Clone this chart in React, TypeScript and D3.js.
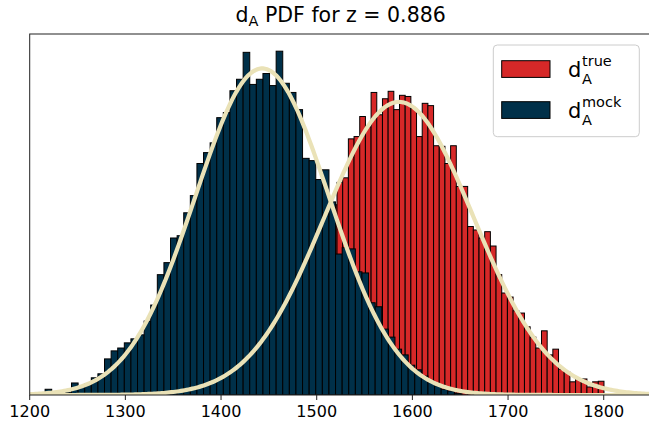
import * as d3 from "d3";

// d_A histograms (density, x1e-4 per unit of d_A), read bar by bar
const MOCK_START = 1216.1;
const MOCK_WIDTH = 6.9;
const mockDensity = [
  1.0, 0.2, 0.3, 0.5, 2.1, 1.4, 1.9, 3.0, 3.7, 6.3,
  7.7, 8.2, 9.1, 9.8, 10.5, 12.9, 15.7, 21.0, 23.1, 27.4,
  27.8, 31.8, 34.8, 40.4, 42.3, 44.0, 48.4, 49.3, 53.1, 55.1,
  59.8, 54.2, 55.1, 56.1, 54.0, 60.0, 54.4, 52.8, 49.8, 41.3,
  40.9, 37.6, 39.3, 33.7, 24.6, 25.7, 25.5, 21.5, 21.3, 16.1,
  15.4, 11.5, 10.1, 8.0, 7.0, 5.2, 4.4, 3.3, 2.3, 1.6,
  1.0, 0.7, 0.3,
];

const TRUE_START = 1372.8;
const TRUE_WIDTH = 5.937;
const trueDensity = [
  1.0, 0.9, 1.7, 2.1, 2.6, 3.5, 3.8, 5.2, 5.8, 7.0,
  7.7, 9.1, 10.5, 11.5, 13.6, 15.0, 17.0, 19.2, 21.0, 23.2,
  25.5, 28.0, 30.1, 32.5, 33.2, 37.1, 37.9, 44.7, 45.1, 48.6,
  46.8, 52.8, 48.9, 51.7, 53.0, 49.8, 52.3, 52.1, 50.0, 45.1,
  50.9, 50.5, 43.5, 43.4, 40.4, 43.5, 36.4, 36.4, 29.4, 28.8,
  27.4, 28.5, 26.0, 21.0, 17.8, 17.1, 14.7, 14.3, 11.9, 10.1,
  8.2, 11.2, 7.0, 8.0, 4.5, 4.0, 2.3, 2.8, 2.8, 1.4,
  2.3, 2.4,
];

// normal fits drawn over the histograms
const mockFit = { mu: 1443, sigma: 70 };
const trueFit = { mu: 1586, sigma: 78 };

const xTicks = [1200, 1300, 1400, 1500, 1600, 1700, 1800];

const RED = "#D62828";
const NAVY = "#003049";
const CREAM = "#EAE2B7";
const FONT = "'DejaVu Sans', sans-serif";

const W = 649;
const H = 428;
const margin = { top: 34, left: 29.7, bottom: 395 };

function pdf(v: number, fit: { mu: number; sigma: number }) {
  const z = (v - fit.mu) / fit.sigma;
  return (1e4 / (fit.sigma * Math.sqrt(2 * Math.PI))) * Math.exp(-0.5 * z * z);
}

export default function App() {
  const x = d3.scaleLinear().domain([1200, 1850]).range([margin.left, margin.left + 650 * 0.9567]);
  const yMax = d3.max([...mockDensity, ...trueDensity]) as number;
  const y = d3.scaleLinear().domain([0, yMax * 1.05]).range([margin.bottom, margin.top]);

  const grid = d3.range(1200, 1850.5, 2);
  const line = (fit: { mu: number; sigma: number }) =>
    d3
      .line<number>()
      .x((v) => x(v))
      .y((v) => y(pdf(v, fit)))(grid) as string;

  const bars = (vals: number[], start: number, w: number, color: string) =>
    vals.map((v, i) => {
      const x0 = x(start + i * w);
      const x1 = x(start + (i + 1) * w);
      return (
        <rect
          key={color + i}
          x={x0}
          y={y(v)}
          width={x1 - x0}
          height={y(0) - y(v)}
          fill={color}
          stroke="#000"
          strokeWidth={1}
        />
      );
    });

  const right = x(1850);

  return (
    <svg
      width={W}
      height={H}
      style={{ position: "absolute", left: 0, top: 0, background: "#fff" }}
      fontFamily={FONT}
    >
      <defs>
        <clipPath id="plot-clip">
          <rect x={margin.left} y={margin.top} width={right - margin.left} height={margin.bottom - margin.top} />
        </clipPath>
      </defs>

      <g clipPath="url(#plot-clip)">
        {bars(trueDensity, TRUE_START, TRUE_WIDTH, RED)}
        {bars(mockDensity, MOCK_START, MOCK_WIDTH, NAVY)}
        <path d={line(mockFit)} fill="none" stroke={CREAM} strokeWidth={4.2} />
        <path d={line(trueFit)} fill="none" stroke={CREAM} strokeWidth={4.2} />
      </g>

      {/* frame */}
      <rect
        x={margin.left}
        y={margin.top}
        width={right - margin.left}
        height={margin.bottom - margin.top}
        fill="none"
        stroke="#222"
        strokeWidth={1}
      />

      {/* x axis */}
      {xTicks.map((t) => (
        <g key={t} transform={`translate(${x(t)},${margin.bottom})`}>
          <line y1={0} y2={5} stroke="#222" strokeWidth={1} />
          <text y={22} textAnchor="middle" fontSize={16} fill="#000">
            {t}
          </text>
        </g>
      ))}

      {/* title */}
      <text x={(margin.left + right) / 2} y={22} textAnchor="middle" fontSize={20.5} fill="#000">
        d<tspan fontSize={14.5} dy={4}>A</tspan>
        <tspan dy={-4}> PDF for z = 0.886</tspan>
      </text>

      {/* legend */}
      <g>
        <rect x={493.3} y={45} width={146} height={91.7} rx={4} fill="#fff" fillOpacity={0.8} stroke="#ccc" />
        {[
          { color: RED, sup: "true", yy: 60.7 },
          { color: NAVY, sup: "mock", yy: 101.7 },
        ].map((d) => (
          <g key={d.sup}>
            <rect x={501.7} y={d.yy} width={48.3} height={16.7} fill={d.color} stroke="#000" strokeWidth={1} />
            <text x={568} y={d.yy + 16} fontSize={21} fill="#000">
              d
            </text>
            <text x={582} y={d.yy + 23} fontSize={14.5} fill="#000">
              A
            </text>
            <text x={582} y={d.yy + 5} fontSize={14.5} fill="#000">
              {d.sup}
            </text>
          </g>
        ))}
      </g>
    </svg>
  );
}
